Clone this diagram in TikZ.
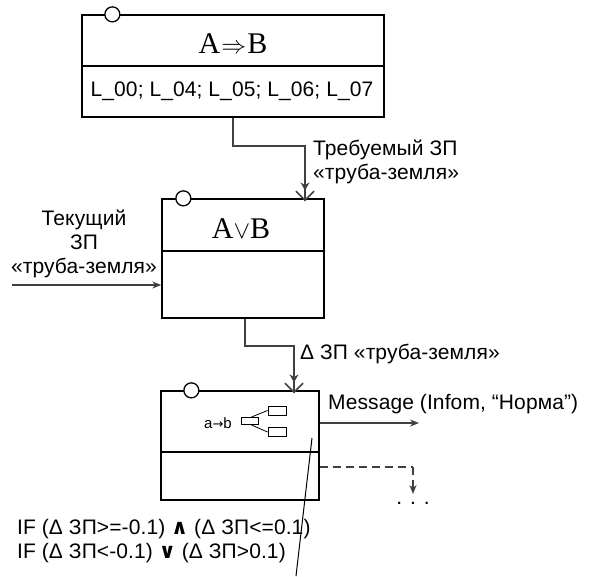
\documentclass[tikz,border=0pt]{standalone}
\usepackage{fontspec}
\usetikzlibrary{arrows.meta}
\newfontfamily\lblfont[LetterSpace=0.5]{Liberation Sans}
\newfontfamily\serfont{Liberation Serif}
\newfontfamily\symfont{DejaVu Sans}
\tikzset{
	blk/.style={draw, line width=1.3pt, fill=white, inner sep=0pt},
	port/.style={circle, draw, line width=1.3pt, fill=white, minimum size=15pt, inner sep=0pt},
	flow/.style={draw=black!75, line width=1.6pt},
	call/.style={flow, -{Stealth[length=8pt,width=9pt] Straight Barb[length=9pt,width=18pt,sep=-3pt]}},
	sig/.style={flow, -{Stealth[length=9pt,width=7pt]}},
	lbl/.style={font=\lblfont\fontsize{21}{24}\selectfont, inner sep=0pt},
	hd/.style={font=\serfont\fontsize{30}{34}\selectfont, inner sep=0pt}
}
\begin{document}
\begin{tikzpicture}[x=1pt, y=-1pt]
		\useasboundingbox (0,0) rectangle (596,576);
		\node[blk, minimum width=302pt, minimum height=102pt] (b1) at (233,66) {};
		\node[blk, minimum width=162pt, minimum height=119pt] (b2) at (243,258.5) {};
		\node[blk, minimum width=158pt, minimum height=109pt] (b3) at (240,445.5) {};
		\draw[line width=1.3pt] (b1.west) -- (b1.east);
		\draw[line width=1.3pt] ([yshift=7.5pt]b2.west) -- ([yshift=7.5pt]b2.east);
		\draw[line width=1.3pt] ([yshift=-6.5pt]b3.west) -- ([yshift=-6.5pt]b3.east);
		\node[port] (p1) at ([xshift=31pt]b1.north west) {};
		\node[port] (p2) at ([xshift=22pt]b2.north west) {};
		\node[port] (p3) at ([xshift=31pt]b3.north west) {};
		\node[hd] (t1) at (233,44) {A\kern1pt$\Rightarrow$\kern1ptB};
		\node[lbl] (l1) at (232,91) {L\_00; L\_04; L\_05; L\_06; L\_07};
		\node[hd] (t2) at (241,229) {A$\vee$B};
		\coordinate (k1) at (305,146);
		\draw[call] (b1.south) |- (k1) -- (k1 |- b2.north);
		\node[lbl, anchor=west, align=left] (r1) at (313,162) {Требуемый ЗП\\«труба-земля»};
		\coordinate (in) at (12,285);
		\draw[sig] (in) -- (in -| b2.west);
		\node[lbl, align=center] (r2) at (84,244) {Текущий\\ЗП\\«труба-земля»};
		\coordinate (k2) at (294,346);
		\draw[call] ([xshift=2pt]b2.south) |- (k2) -- (k2 |- b3.north);
		\node[lbl, anchor=west] (r3) at (300,354) {Δ ЗП «труба-земля»};
		% icon
		\node[font=\lblfont\fontsize{15}{17}\selectfont, inner sep=0pt] (ab) at (218,423) {a{\symfont\fontsize{13}{15}\selectfont→}b};
		\node[draw, line width=1pt, minimum width=17pt, minimum height=7pt, inner sep=0pt] (s0) at (249.5,421) {};
		\node[draw, line width=1pt, minimum width=18pt, minimum height=9pt, inner sep=0pt] (s1) at (277,410.5) {};
		\node[draw, line width=1pt, minimum width=18pt, minimum height=9pt, inner sep=0pt] (s2) at (277,432) {};
		\draw[line width=0.8pt] ([xshift=2pt]s0.north) -- (s1.west);
		\draw[line width=0.8pt] ([xshift=2pt]s0.south) -- (s2.west);
		\coordinate (m1) at (419,423);
		\draw[sig] (b3.east |- m1) -- (m1);
		\node[lbl, anchor=west] (r4) at (328,404) {Message (Infom, “Норма”)};
		\coordinate (d1) at (413,467);
		\coordinate (d2) at (413,494);
		\draw[flow, dashed, dash pattern=on 8pt off 5pt] (b3.east |- d1) -- (d1);
		\draw[sig, dashed, dash pattern=on 8pt off 5pt] (d1) -- (d2);
		\node[lbl] (dots) at (413,503) {. . .};
		\coordinate (q1) at (312,438);
		\coordinate (q2) at (296,576);
		\draw[line width=1pt] (q1) -- (q2);
		\node[lbl, anchor=west, align=left] (c1) at (17,541.5) {IF (Δ ЗП>=-0.1) {\symfont\bfseries ∧} (Δ ЗП<=0.1)\\IF (Δ ЗП<-0.1) {\symfont\bfseries ∨} (Δ ЗП>0.1)};
	\end{tikzpicture}
\end{document}
